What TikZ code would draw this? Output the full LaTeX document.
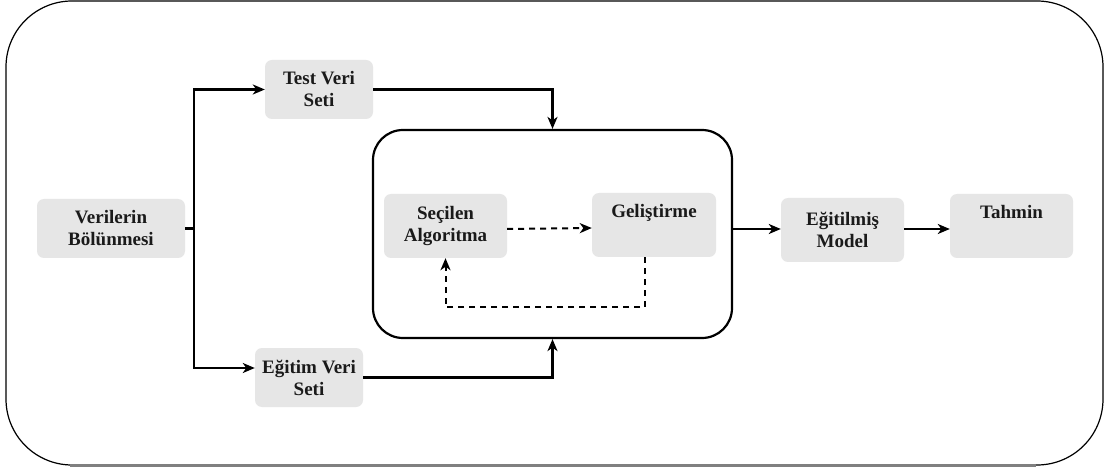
\documentclass[tikz,border=0pt]{standalone}
\usepackage{fontspec}
\setmainfont{Liberation Serif}
\usetikzlibrary{arrows.meta}
\definecolor{boxgray}{HTML}{E6E6E6}
\definecolor{txt}{HTML}{1A1A1A}
\begin{document}
\begin{tikzpicture}[x=1pt,y=-1pt,
  box/.style={draw=none,fill=boxgray,rounded corners=7pt,align=center,
    font=\fontsize{19}{22}\selectfont\bfseries,text=txt,inner sep=0pt},
  arr/.style={line width=2.2pt,-{Stealth[length=12pt,width=10pt,inset=3.5pt]}},
  dasharr/.style={line width=2pt,dash pattern=on 6pt off 5pt,-{Stealth[length=12pt,width=10pt,inset=3.5pt]}},
  plain/.style={line width=2.2pt}]
\useasboundingbox (0,0) rectangle (1108,470);
% outer frame
\draw[line width=1.2pt,fill=white,rounded corners=66pt] (6,1) rectangle (1103,465);
\draw[line width=2.6pt,color=gray] (70,465.6) -- (1036,465.6);
% big container
\node[draw,line width=2.2pt,rounded corners=30pt,minimum width=359pt,minimum height=208pt,inner sep=0pt] (big) at (552.5,234) {};
% boxes
\node[box,minimum width=148pt,minimum height=59pt] (ver) at (111,228.5) {Verilerin\\Bölünmesi};
\node[box,minimum width=108pt,minimum height=59pt] (test) at (319,89.5) {Test Veri\\Seti};
\node[box,minimum width=108pt,minimum height=59pt] (egt) at (309,377.5) {Eğitim Veri\\Seti};
\node[box,minimum width=123pt,minimum height=64pt] (sec) at (445.5,226) {Seçilen\\Algoritma};
\node[box,minimum width=124pt,minimum height=64pt] (gel) at (654,225) {Geliştirme\\\strut};
\node[box,minimum width=123pt,minimum height=64pt] (egm) at (842.5,230) {Eğitilmiş\\Model};
\node[box,minimum width=123pt,minimum height=64pt] (tah) at (1011.5,226) {Tahmin\\\strut};
% connectors
\coordinate (sp) at (194,228.5);
\draw[plain] (ver.east) -- (sp);
\draw[arr] (sp) |- (test.west);
\draw[arr] (sp) |- ([yshift=9.5pt]egt.west);
\draw[arr] (test.east) -| (big.north);
\draw[arr] (egt.east) -| (big.south);
\draw[dasharr] ([yshift=-3pt]sec.east) -- ([yshift=-3pt]gel.west);
\draw[dasharr] ([xshift=-9pt]gel.south) -- ++(0,50) -| (sec.south);
\draw[arr] ([yshift=1pt]big.east |- egm.west) -- ([yshift=1pt]egm.west);
\draw[arr] ([yshift=1pt]egm.east) -- ([yshift=1pt]egm.east -| tah.west);
\end{tikzpicture}
\end{document}
